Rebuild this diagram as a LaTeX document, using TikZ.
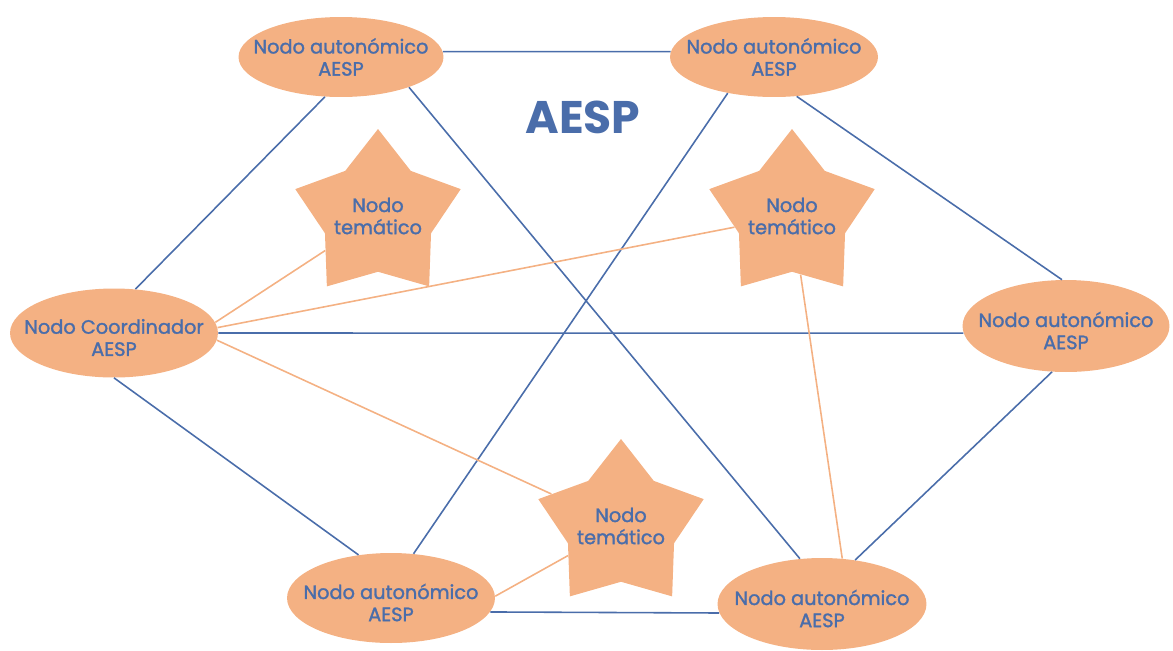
\documentclass[tikz,border=0pt]{standalone}
\usepackage{fontspec}
\setmainfont{Poppins}
\newfontfamily\rotulofont{Poppins}[FakeBold=1.5]
\usetikzlibrary{shapes.geometric}
\definecolor{salmon}{HTML}{F4B183}
\definecolor{aespblue}{HTML}{4A6DAA}
\begin{document}
\begin{tikzpicture}[x=0.02cm, y=-0.02cm,
	rotulo/.style={text=aespblue, align=center, font=\rotulofont\fontsize{11}{12.6}\selectfont},
	autonomo/.style={ellipse, fill=salmon, minimum width=4.16cm, minimum height=1.8cm, label={[rotulo, yshift=-0.09cm]center:{#1}}},
	arriba/.style={ellipse, fill=salmon, minimum width=4.16cm, minimum height=1.6cm, label={[rotulo]center:{#1}}},
	tematico/.style={star, star points=5, star point ratio=1.56, fill=salmon, inner sep=0pt, minimum size=3.48cm, label={[rotulo]center:{#1}}},
	enlace/.style={aespblue, line width=0.9pt},
	tema/.style={salmon, line width=0.9pt}]
	\useasboundingbox (0,0) rectangle (1173,650);
	\node[arriba={Nodo autonómico\\AESP}, minimum width=4.1cm] (tl) at (341,57) {};
	\node[arriba={Nodo autonómico\\AESP}] (tr) at (774,57) {};
	\node[autonomo={Nodo Coordinador\\AESP}, minimum height=1.78cm] (coord) at (114,333) {};
	\node[autonomo={Nodo autonómico\\AESP}, minimum width=4.14cm, minimum height=1.84cm] (der) at (1066,326) {};
	\node[autonomo={Nodo autonómico\\AESP}] (bl) at (391,598) {};
	\node[autonomo={Nodo autonómico\\AESP}, minimum width=4.18cm, minimum height=1.84cm] (br) at (822,604) {};
	\node[tematico={Nodo\\temático}] (t1) at (378,216) {};
	\node[tematico={Nodo\\temático}] (t2) at (792,216) {};
	\node[tematico={Nodo\\temático}] (t3) at (621,526) {};
	\node[text=aespblue, font=\fontsize{26}{30}\selectfont\bfseries] (titulo) at (583,117) {AESP};
	% red de nodos autonomicos
	\draw[enlace] (tl.3) -- (tr.177);
	\draw[enlace] (tl.248) -- (coord.64);
	\draw[enlace] (tl.336) -- (br.116);
	\draw[enlace] (tr.218) -- (bl.63);
	\draw[enlace] (tr.300) -- (der.95);
	\draw[enlace] (coord.0) -- (der.184);
	\draw[enlace] (coord.270) -- (bl.127);
	\draw[enlace] (der.253) -- (br.53);
	\draw[enlace] (bl.352) -- (br.185);
	% nodos tematicos
	\draw[tema] (coord.6) -- (t1);
	\draw[tema] (coord.3) -- (t2);
	\draw[tema] (coord.356) -- (t3);
	\draw[tema] (bl.1) -- (t3);
	\draw[tema] (t2) -- (br.66);
\end{tikzpicture}
\end{document}
